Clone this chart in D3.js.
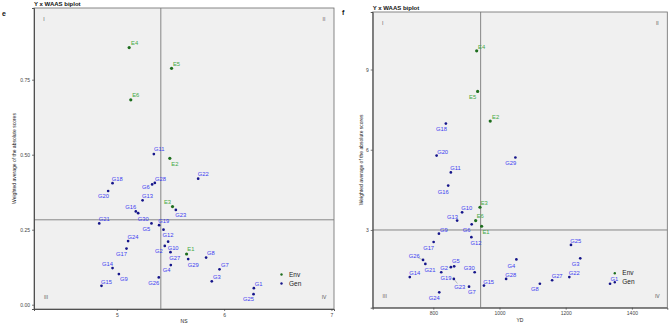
<!DOCTYPE html>
<html>
<head>
<meta charset="utf-8">
<script src="https://cdn.jsdelivr.net/npm/d3@7"></script>
<style>
  body { margin: 0; background: #fff; }
  svg text { font-family: "Liberation Sans", Arial, sans-serif; }
</style>
</head>
<body>
<div id="my_dataviz"></div>
<script>
// names
var envNames = ["E1", "E2", "E3", "E4", "E5", "E6"];
var genNames = ["G1","G2","G3","G4","G5","G6","G7","G8","G9","G10",
                "G11","G12","G13","G14","G15","G16","G17","G18","G19","G20",
                "G21","G22","G23","G24","G25","G26","G27","G28","G29","G30"];

// panel e : NS
var envNS     = [5.650, 5.494, 5.519, 5.115, 5.510, 5.130];
var envNSWaas = [0.169, 0.488, 0.327, 0.857, 0.788, 0.683];
var genNS     = [6.277, 5.447, 5.885, 5.503, 5.323, 5.329, 5.957, 5.832, 5.019, 5.478,
                 5.345, 5.435, 5.240, 4.960, 4.857, 5.177, 5.090, 4.960, 5.394, 4.919,
                 4.836, 5.758, 5.550, 5.105, 6.274, 5.391, 5.500, 5.354, 5.665, 5.199];
var genNSWaas = [0.055, 0.196, 0.078, 0.132, 0.271, 0.401, 0.118, 0.157, 0.102, 0.210,
                 0.502, 0.250, 0.348, 0.122, 0.063, 0.311, 0.187, 0.405, 0.265, 0.379,
                 0.271, 0.420, 0.316, 0.212, 0.035, 0.091, 0.175, 0.406, 0.152, 0.305];
var meanNS = 5.41, meanNSWaas = 0.283;
var ticksNS = [5, 6, 7], ticksNSWaas = [0, 0.25, 0.5, 0.75];

// panel f : YD
var envYD     = [946, 972, 941, 931, 934, 928];
var envYDWaas = [3.14, 7.07, 3.85, 9.70, 8.18, 3.35];
var genYD     = [1334, 853, 1244, 1051, 863, 916, 908, 1122, 817, 887,
                 853, 915, 872, 729, 953, 845, 801, 838, 824, 810,
                 776, 1211, 862, 818, 1216, 769, 1159, 1020, 1048, 925];
var genYDWaas = [0.99, 1.61, 1.94, 1.90, 1.64, 3.21, 0.88, 0.99, 2.86, 3.66,
                 5.15, 2.73, 3.35, 1.24, 0.92, 4.66, 2.55, 6.98, 1.42, 5.78,
                 1.73, 1.24, 1.17, 0.67, 2.44, 1.88, 1.12, 1.17, 5.71, 1.42];
var meanYD = 943, meanYDWaas = 3.0;
var ticksYD = [800, 1000, 1200, 1400], ticksYDWaas = [3, 6, 9];

// where the labels sit next to their point (px, label centre)
var labOffE = {E1:[4.3,-5],E2:[5,6],E3:[-5,-4.4],E4:[5.4,-4.4],E5:[5,-4.3],E6:[5,-4.4],
  G1:[4.7,-4.3],G2:[-6,5],G3:[5,-4.6],G4:[-4.3,5],G5:[-5,5.4],G6:[-6.3,2.7],G7:[5.3,-4.3],
  G8:[4.7,-4.4],G9:[5,5.3],G10:[5,6],G11:[5.3,-4.7],G12:[4.6,5.3],G13:[5,-4.6],G14:[-5,-4.3],
  G15:[5,-4],G16:[-5,-4.3],G17:[-5,5.6],G18:[4.6,-4.3],G19:[4.7,-4],G20:[-4.6,5.3],G21:[5,-4],
  G22:[5,-4.7],G23:[5,5.3],G24:[5,-4],G25:[-5,5],G26:[-5,6],G27:[4.3,6],G28:[5.7,-3.7],
  G29:[5,6],G30:[5,6]};
var labOffF = {E1:[4.3,5.7],E2:[5.4,-4.6],E3:[4.3,-4],E4:[5,-4.3],E5:[-5,5.6],E6:[4.6,-4.7],
  G1:[4.3,-4.7],G2:[-6.7,1],G3:[-4.6,5.7],G4:[-5,6.4],G5:[1.7,-5.3],G6:[-5,6],G7:[2.7,5.6],
  G8:[-5,5.6],G9:[5,-4],G10:[4.7,-4],G11:[4.7,-4.4],G12:[4.7,5.7],G13:[-4.6,-4],G14:[5,-4.3],
  G15:[4.7,-4],G16:[-5,6],G17:[-5,5.7],G18:[-4.3,5.3],G19:[4.7,6],G20:[6,-3.7],G21:[4.7,6],
  G22:[5,-4.3],G23:[6,7.7],G24:[-5,5.7],G25:[4.7,-4.3],G26:[-8.7,-4],G27:[5,-4],G28:[4.7,-3.7],
  G29:[-4.6,5.6],G30:[-5.4,-4.6]};

var svg = d3.select("#my_dataviz").append("svg")
    .attr("width", 669)
    .attr("height", 329);

var envPt = "#1e6e1e", envLab = "#43a843", genPt = "#15158a", genLab = "#3c3cf0";

function drawPanel(p) {
    var g = svg.append("g");
    var x = d3.scaleLinear().domain(p.xDomain).range([p.left, p.right]);
    var y = d3.scaleLinear().domain(p.yDomain).range([p.bottom, p.top]);

    g.append("rect")
        .attr("x", p.left).attr("y", p.top)
        .attr("width", p.right - p.left).attr("height", p.bottom - p.top)
        .attr("fill", "#f0f0f0")
        .attr("stroke", "#6a6a6a")
        .attr("stroke-width", 0.8);

    // reference lines
    g.append("line")
        .attr("x1", x(p.xMean)).attr("x2", x(p.xMean))
        .attr("y1", p.top).attr("y2", p.bottom)
        .attr("stroke", "#7a7a7a").attr("stroke-width", 0.9);
    g.append("line")
        .attr("x1", p.left).attr("x2", p.right)
        .attr("y1", y(p.yMean)).attr("y2", y(p.yMean))
        .attr("stroke", "#7a7a7a").attr("stroke-width", 0.9);

    // axes
    var xa = g.append("g")
        .attr("transform", "translate(0," + p.bottom + ")")
        .call(d3.axisBottom(x).tickValues(p.xTicks).tickSize(2).tickPadding(2)
              .tickFormat(d3.format(p.xFmt)));
    var ya = g.append("g")
        .attr("transform", "translate(" + p.left + ",0)")
        .call(d3.axisLeft(y).tickValues(p.yTicks).tickSize(2).tickPadding(2)
              .tickFormat(d3.format(p.yFmt)));
    [xa, ya].forEach(function(a) {
        a.select(".domain").attr("stroke", "#444").attr("stroke-width", 0.9);
        a.selectAll(".tick line").attr("stroke", "#444").attr("stroke-width", 0.7);
        a.selectAll("text").attr("fill", "#444").style("font-size", "5px");
    });

    // titles
    g.append("text")
        .attr("x", p.left).attr("y", p.top - 2.5)
        .style("font-size", "6px").style("font-weight", "bold")
        .attr("fill", "#111")
        .text("Y x WAAS biplot");
    g.append("text")
        .attr("x", p.tagX).attr("y", p.tagY)
        .style("font-size", "7px").style("font-weight", "bold")
        .attr("fill", "#111")
        .text(p.tag);
    g.append("text")
        .attr("x", (p.left + p.right) / 2).attr("y", p.bottom + 14)
        .attr("text-anchor", "middle")
        .style("font-size", "5px").attr("fill", "#222")
        .text(p.xLabel);
    g.append("text")
        .attr("transform", "translate(" + p.yLabX + "," + ((p.top + p.bottom) / 2) + ") rotate(-90)")
        .attr("text-anchor", "middle")
        .style("font-size", "5px").attr("fill", "#222")
        .text("Weighted average of the absolute scores");

    // quadrant numbers
    var quads = [["I", p.left + 10, p.top + 13, "middle"], ["II", p.right - 10, p.top + 13, "middle"],
                 ["III", p.left + 12, p.bottom - 10, "middle"], ["IV", p.right - 10, p.bottom - 10, "middle"]];
    g.selectAll(".quad").data(quads).enter().append("text")
        .attr("x", function(d) { return d[1]; })
        .attr("y", function(d) { return d[2]; })
        .attr("text-anchor", "middle")
        .style("font-size", "5px").attr("fill", "#555")
        .text(function(d) { return d[0]; });

    var pts = [];
    p.genX.forEach(function(v, i) { pts.push({name: genNames[i], x: v, y: p.genY[i], env: false}); });
    p.envX.forEach(function(v, i) { pts.push({name: envNames[i], x: v, y: p.envY[i], env: true}); });

    // leader line when the label sits far from its point
    g.selectAll(".lead").data(pts.filter(function(d) {
            var o = p.off[d.name]; return Math.sqrt(o[0] * o[0] + o[1] * o[1]) > 9; }))
        .enter().append("line")
        .attr("x1", function(d) { return x(d.x); })
        .attr("y1", function(d) { return y(d.y); })
        .attr("x2", function(d) { return x(d.x) + p.off[d.name][0] * 0.6; })
        .attr("y2", function(d) { return y(d.y) + p.off[d.name][1] * 0.6; })
        .attr("stroke", "#666").attr("stroke-width", 0.4);

    g.selectAll(".pt").data(pts).enter().append("circle")
        .attr("cx", function(d) { return x(d.x); })
        .attr("cy", function(d) { return y(d.y); })
        .attr("r", function(d) { return d.env ? 1.6 : 1.35; })
        .attr("fill", function(d) { return d.env ? envPt : genPt; });

    g.selectAll(".lab").data(pts).enter().append("text")
        .attr("x", function(d) { return x(d.x) + p.off[d.name][0]; })
        .attr("y", function(d) { return y(d.y) + p.off[d.name][1]; })
        .attr("dy", "0.35em")
        .attr("text-anchor", "middle")
        .style("font-size", "5.8px")
        .attr("fill", function(d) { return d.env ? envLab : genLab; })
        .text(function(d) { return d.name; });

    // legend
    var lg = g.append("g").attr("transform", "translate(" + (p.right - 52.5) + "," + (p.bottom - 34.5) + ")");
    [["Env", envPt], ["Gen", genPt]].forEach(function(d, i) {
        lg.append("circle").attr("cx", 0).attr("cy", i * 9).attr("r", 1.2).attr("fill", d[1]);
        lg.append("text").attr("x", 7.5).attr("y", i * 9).attr("dy", "0.35em")
            .style("font-size", "6.5px").attr("fill", "#222").text(d[0]);
    });
}

drawPanel({
    left: 34, right: 334, top: 8, bottom: 309,
    xDomain: [4.228, 7.024], yDomain: [-0.0143, 0.989],
    xTicks: ticksNS, yTicks: ticksNSWaas, xFmt: "d", yFmt: ".2f",
    xMean: meanNS, yMean: meanNSWaas,
    genX: genNS, genY: genNSWaas, envX: envNS, envY: envNSWaas,
    off: labOffE, tag: "e", tagX: 2, tagY: 16,
    xLabel: "NS", yLabX: 16
});

drawPanel({
    left: 372.7, right: 667.3, top: 12, bottom: 307.7,
    xDomain: [616.9, 1507], yDomain: [0.094, 11.15],
    xTicks: ticksYD, yTicks: ticksYDWaas, xFmt: "d", yFmt: "d",
    xMean: meanYD, yMean: meanYDWaas,
    genX: genYD, genY: genYDWaas, envX: envYD, envY: envYDWaas,
    off: labOffF, tag: "f", tagX: 342, tagY: 15,
    xLabel: "YD", yLabX: 363
});
</script>
</body>
</html>
